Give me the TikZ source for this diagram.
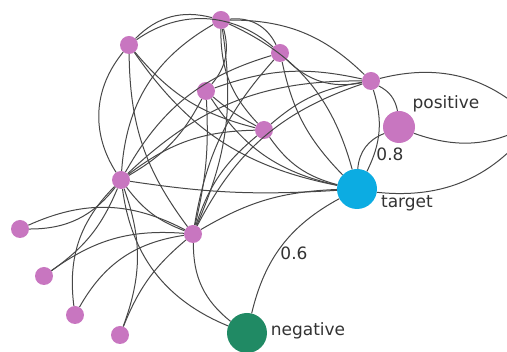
\documentclass[tikz,border=0pt]{standalone}
\usepackage{fontspec}
\setmainfont{DejaVu Sans}
\definecolor{pinkdot}{RGB}{200,118,192}
\definecolor{targetblue}{RGB}{12,172,226}
\definecolor{neggreen}{RGB}{32,138,100}

\begin{document}
\begin{tikzpicture}[x=1pt,y=-1pt,
    vertex/.style={circle,inner sep=0pt,minimum size=18pt,fill=pinkdot},
    edge/.style={black!72,line width=1pt},
    lbl/.style={text=black!80,font=\fontsize{17}{20}\selectfont}]
  \path[use as bounding box] (0,0) rectangle (507,352);
  \clip (0,0) rectangle (507,352);

  % the small vertices
  \node[vertex] (a) at (129,45) {};
  \node[vertex] (b) at (221,20) {};
  \node[vertex] (c) at (280,53) {};
  \node[vertex] (d) at (206,91) {};
  \node[vertex] (e) at (371,81) {};
  \node[vertex] (f) at (264,130) {};
  \node[vertex] (g) at (121,180) {};
  \node[vertex] (h) at (193,234) {};
  \node[vertex] (i) at (20,229) {};
  \node[vertex] (j) at (44,276) {};
  \node[vertex] (k) at (75,315) {};
  \node[vertex] (l) at (120,335) {};

  % the three marked vertices
  \node[vertex,minimum size=32pt] (pos) at (399,127) {};
  \node[vertex,minimum size=40pt,fill=targetblue] (target) at (357,189) {};
  \node[vertex,minimum size=40pt,fill=neggreen] (neg) at (247,333) {};
  \coordinate (off) at (535,122);

  \node[lbl] (poslabel) at (446,104) {positive};
  \node[lbl] (targetlabel) at (407,203) {target};
  \node[lbl] (neglabel) at (308,331) {negative};
  \node[lbl] (wpos) at (390,154) {0.8};
  \node[lbl] (wneg) at (294,253) {0.6};

  \foreach \u/\v/\b in {a/b/30, a/c/38, b/c/35, a/g/-36, a/f/-18, a/target/-22,
      a/h/-18, b/d/28, g/b/28, g/c/22, b/h/16, c/h/-16, b/f/-22, b/target/25,
      b/e/22, c/e/-28, c/target/-16, d/g/16, d/h/8, d/target/-22, d/e/16,
      d/f/-6, g/e/22, h/e/22, f/e/16, e/target/22, f/target/-20, g/f/18,
      f/h/-16, g/h/-16, g/target/-6, h/target/14, i/g/-26, i/h/26,
      j/g/-16, j/h/20, k/g/26, k/h/26, l/g/-20, l/h/14, h/neg/-26,
      g/neg/-30, e/pos/26} {
    \draw[edge] (\u) to[bend left=\b] (\v);
  }

  % weighted edges and the ones leaving the picture
  \draw[edge] (pos) to[bend left=-32] (target);
  \draw[edge] (target) to[bend left=-24] (neg);
  \draw[edge] (e) to[bend left=30] (off);
  \draw[edge] (pos) to[bend left=-25] (off);
  \draw[edge] (target) to[bend left=-30] (off);
\end{tikzpicture}
\end{document}
